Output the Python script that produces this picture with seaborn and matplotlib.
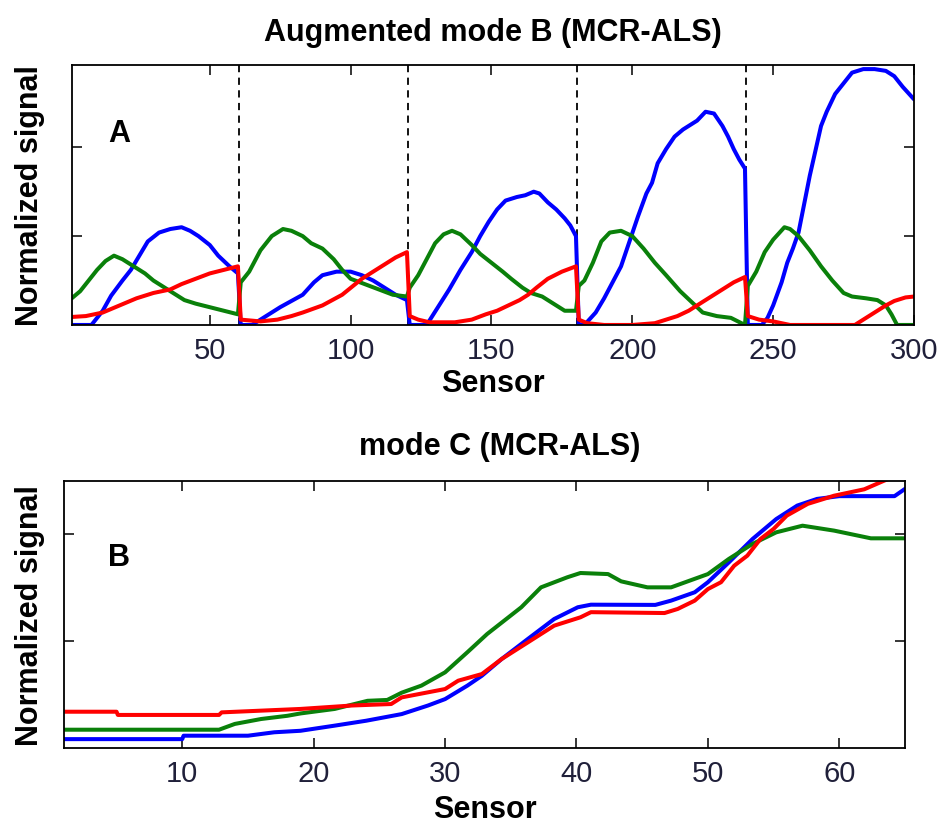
import numpy as np
import pandas as pd
import seaborn as sns
import matplotlib.pyplot as plt

sns.set_style('white')
plt.rcParams['font.family'] = ['Liberation Sans', 'DejaVu Sans']
plt.rcParams['text.color'] = 'black'
plt.rcParams['axes.labelcolor'] = 'black'

# --- mode B, augmented (5 blocks of 60 sensors) ---
b_blue_x = [1, 8, 12, 15, 19, 22, 25, 28, 32, 36, 40, 43, 46, 50, 53, 57, 60,
            61, 65, 68, 75, 83, 87, 90, 95, 100, 104, 108, 112, 116, 120,
            121, 127, 131, 135, 139, 143, 146, 149, 152, 155, 159, 162, 165, 167, 170, 173, 176, 178, 180,
            181, 183, 187, 190, 193, 196, 199, 202, 205, 207, 209, 212, 215, 218, 220, 223, 226, 229, 232, 234, 236, 238, 240,
            241, 246, 248, 250, 253, 255, 257, 259, 261, 263, 265, 267, 269, 272, 275, 278, 282, 286, 290, 293, 296, 300]
b_blue_y = [0, 0, 0.08, 0.165, 0.25, 0.31, 0.39, 0.47, 0.52, 0.54, 0.55, 0.53, 0.5, 0.45, 0.39, 0.33, 0.29,
            0, 0, 0.03, 0.1, 0.17, 0.24, 0.28, 0.3, 0.3, 0.28, 0.25, 0.21, 0.17, 0.14,
            0, 0, 0.1, 0.2, 0.31, 0.41, 0.5, 0.58, 0.65, 0.7, 0.72, 0.73, 0.75, 0.74, 0.69, 0.65, 0.6, 0.56, 0.5,
            0, 0, 0.07, 0.15, 0.24, 0.33, 0.47, 0.61, 0.74, 0.8, 0.91, 0.99, 1.06, 1.1, 1.12, 1.15, 1.2, 1.19, 1.12, 1.06, 0.99, 0.93, 0.88,
            0, 0, 0.04, 0.11, 0.24, 0.35, 0.43, 0.52, 0.68, 0.84, 0.98, 1.12, 1.2, 1.3, 1.36, 1.42, 1.44, 1.44, 1.43, 1.4, 1.34, 1.27]

b_green_x = [1, 4, 7, 10, 13, 16, 19, 23, 27, 30, 33, 37, 41, 45, 50, 55, 60,
             61, 64, 66, 68, 72, 76, 79, 83, 86, 90, 94, 97, 100, 105, 110, 115, 120,
             121, 124, 127, 130, 133, 136, 139, 143, 146, 150, 154, 157, 161, 164, 168, 172, 176, 180,
             181, 183, 186, 189, 192, 196, 200, 204, 208, 212, 217, 221, 225, 230, 235, 240,
             241, 244, 247, 250, 254, 256, 259, 263, 267, 271, 275, 278, 283, 287, 290, 292, 294, 300]
b_green_y = [0.15, 0.19, 0.25, 0.31, 0.36, 0.39, 0.37, 0.33, 0.29, 0.25, 0.22, 0.18, 0.14, 0.12, 0.1, 0.08, 0.06,
             0.24, 0.3, 0.36, 0.42, 0.5, 0.54, 0.53, 0.5, 0.46, 0.43, 0.37, 0.31, 0.26, 0.23, 0.2, 0.17, 0.16,
             0.21, 0.28, 0.37, 0.46, 0.51, 0.53, 0.51, 0.45, 0.4, 0.35, 0.3, 0.26, 0.21, 0.18, 0.16, 0.12, 0.08, 0.08,
             0.22, 0.25, 0.35, 0.47, 0.52, 0.53, 0.5, 0.43, 0.35, 0.28, 0.19, 0.13, 0.07, 0.05, 0.04, 0.0,
             0.22, 0.3, 0.41, 0.48, 0.55, 0.54, 0.5, 0.42, 0.33, 0.25, 0.18, 0.16, 0.15, 0.14, 0.11, 0.06, 0.0, 0.0]

b_red_x = [1, 6, 12, 18, 24, 30, 36, 40, 45, 50, 55, 60,
           61, 68, 74, 79, 83, 90, 97, 104, 111, 116, 120,
           121, 124, 128, 137, 143, 148, 152, 156, 160, 163, 166, 170, 175, 180,
           181, 184, 190, 200, 208, 212, 216, 220, 224, 228, 232, 236, 240,
           241, 245, 250, 256, 279, 283, 286, 290, 293, 297, 300]
b_red_y = [0.045, 0.05, 0.07, 0.11, 0.15, 0.18, 0.2, 0.23, 0.26, 0.29, 0.31, 0.33,
           0.03, 0.02, 0.03, 0.05, 0.07, 0.11, 0.17, 0.26, 0.33, 0.38, 0.41,
           0.05, 0.03, 0.015, 0.015, 0.03, 0.06, 0.08, 0.11, 0.14, 0.17, 0.21, 0.26, 0.3, 0.33,
           0.03, 0.01, 0.0, 0.0, 0.01, 0.03, 0.05, 0.08, 0.12, 0.16, 0.2, 0.24, 0.27,
           0.05, 0.03, 0.02, 0.0, 0.0, 0.04, 0.07, 0.11, 0.135, 0.155, 0.16]

block_edges = [60.5, 120.5, 180.5, 240.5]

# --- mode C ---
c_blue_x = [1, 10, 10.1, 15, 17, 19, 21.6, 24, 26.7, 28.7, 30, 31.7, 32.8, 34.3, 36.3, 38.3, 40.1, 41.1,
            46, 47.2, 49, 50, 51.6, 53.4, 55.2, 56.8, 58.3, 60, 64.2, 65]
c_blue_y = [0.043, 0.043, 0.059, 0.059, 0.075, 0.082, 0.106, 0.129, 0.16, 0.2, 0.23, 0.293, 0.339, 0.417, 0.511, 0.604, 0.659, 0.671,
            0.67, 0.69, 0.729, 0.776, 0.869, 0.978, 1.071, 1.134, 1.165, 1.178, 1.178, 1.212]

c_green_x = [1, 12.8, 14, 16, 18, 19, 21.6, 24.1, 25.6, 26.7, 28.2, 30, 31.7, 33.2, 35.8, 37.3, 39.3, 40.3, 42.4,
             43.4, 45.4, 47.2, 50, 51.6, 53.4, 55.2, 57.2, 59.6, 62.4, 65]
c_green_y = [0.087, 0.087, 0.114, 0.137, 0.152, 0.163, 0.184, 0.222, 0.226, 0.26, 0.293, 0.355, 0.449, 0.534, 0.659, 0.752, 0.799, 0.819, 0.814,
             0.78, 0.752, 0.752, 0.814, 0.885, 0.955, 1.009, 1.04, 1.017, 0.981, 0.981]

c_red_x = [1, 5, 5.1, 12.8, 13, 19, 22.9, 25.9, 26.7, 30, 31, 32.8, 34.3, 36.3, 38.3, 40.3, 41.1,
           46.7, 47.7, 49, 50, 51, 52, 53, 54, 55, 56, 57.6, 59.6, 61.9, 63.4, 65]
c_red_y = [0.171, 0.171, 0.156, 0.156, 0.168, 0.184, 0.2, 0.207, 0.238, 0.277, 0.316, 0.347, 0.417, 0.495, 0.573, 0.612, 0.636,
           0.632, 0.651, 0.69, 0.744, 0.776, 0.853, 0.9, 0.978, 1.025, 1.087, 1.142, 1.18, 1.21, 1.25, 1.29]

components = ['comp 1', 'comp 2', 'comp 3']
colors = {'comp 1': '#0000ff', 'comp 2': '#0a800a', 'comp 3': '#ff0000'}


def to_frame(series):
    parts = []
    for name, (xs, ys) in zip(components, series):
        parts.append(pd.DataFrame({'sensor': xs, 'signal': ys, 'component': name}))
    return pd.concat(parts, ignore_index=True)


df_b = to_frame([(b_blue_x, b_blue_y), (b_green_x, b_green_y), (b_red_x, b_red_y)])
df_c = to_frame([(c_blue_x, c_blue_y), (c_green_x, c_green_y), (c_red_x, c_red_y)])

fig = plt.figure(figsize=(9.45, 8.29), dpi=100)
ax1 = fig.add_axes([0.0759, 0.6068, 0.8913, 0.314])
ax2 = fig.add_axes([0.0677, 0.0961, 0.89, 0.3228])

for b in block_edges:
    ax1.axvline(b, color='k', linestyle=(0, (4, 3)), linewidth=1.3, zorder=1)

for ax, df in [(ax1, df_b), (ax2, df_c)]:
    sns.lineplot(data=df, x='sensor', y='signal', hue='component', hue_order=components,
                 palette=colors, sort=False, estimator=None, legend=False,
                 linewidth=2.9, ax=ax, zorder=2)

ax1.set_xlim(1, 300)
ax1.set_ylim(0, 1.465)
ax1.set_xticks([50, 100, 150, 200, 250, 300])
ax2.set_xlim(1, 65)
ax2.set_ylim(0, 1.25)
ax2.set_xticks([10, 20, 30, 40, 50, 60])

ax1.set_title('Augmented mode B (MCR-ALS)', fontsize=22, fontweight='bold', pad=18)
ax2.set_title('mode C (MCR-ALS)', fontsize=22, fontweight='bold', pad=19, x=0.518)

ax1.text(18, 1.08, 'A', fontsize=22, fontweight='bold', ha='center', va='center')
ax2.text(5.2, 0.894, 'B', fontsize=22, fontweight='bold', ha='center', va='center')

for ax in (ax1, ax2):
    ax.set_yticks([0.5, 1.0])
    ax.set_yticklabels([])
    ax.set_ylabel('Normalized signal', fontsize=22, fontweight='bold')
    ax.tick_params(direction='in', top=True, right=True, bottom=True, left=True,
                   length=7, width=1.1, color='black',
                   labelsize=21, pad=8, labelcolor='#20203a')
    for s in ax.spines.values():
        s.set_visible(True)
        s.set_color('black')
        s.set_linewidth(1.3)

ax1.set_xlabel('Sensor', fontsize=22, fontweight='bold', labelpad=3)
ax2.set_xlabel('Sensor', fontsize=22, fontweight='bold', labelpad=5)

ax1.yaxis.set_label_coords((45 - 71.7) / 842.3, 0.5)
ax2.yaxis.set_label_coords((45 - 64) / 841, 0.5)

fig.savefig('out.png', dpi=100)
